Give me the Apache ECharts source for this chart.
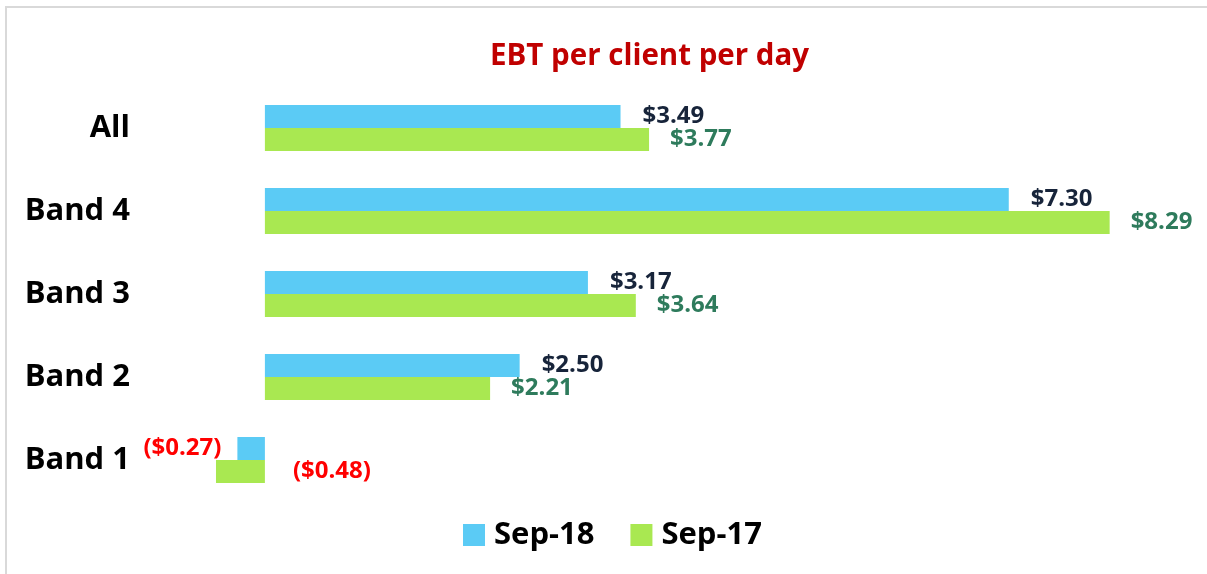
<!DOCTYPE html>
<html>
<head>
<meta charset="utf-8">
<script src="https://cdn.jsdelivr.net/npm/echarts@6/dist/echarts.min.js"></script>
<style>
  html, body { margin: 0; padding: 0; background: #fff; }
  #chart { width: 1207px; height: 574px; }
</style>
</head>
<body>
<div id="chart"></div>
<script>
// categories bottom -> top (category y axis starts at the bottom)
const categories = ["Band 1", "Band 2", "Band 3", "Band 4", "All"];
const sep18 = [-0.27, 2.5, 3.17, 7.3, 3.49];
const sep17 = [-0.48, 2.21, 3.64, 8.29, 3.77];

const FONT = "Open Sans";

function money(v) {
  const s = "$" + Math.abs(v).toFixed(2);
  return v < 0 ? "(" + s + ")" : s;
}

// negative values get red labels, placed the way the original has them
function withLabels(values, negPos, negDist) {
  return values.map((v) => {
    if (v >= 0) return v;
    return {
      value: v,
      label: { color: "#FF0000", position: negPos, distance: negDist },
    };
  });
}

const chart = echarts.init(document.getElementById("chart"));
chart.setOption({
  animation: false,
  textStyle: { fontFamily: FONT },
  title: {
    text: "EBT per client per day",
    left: 485,
    top: 37,
    textStyle: { color: "#C00000", fontSize: 29.5, fontWeight: "bold", fontFamily: FONT },
  },
  graphic: [
    {
      type: "rect",
      shape: { x: 6, y: 7, width: 1400, height: 800 },
      style: { fill: "none", stroke: "#d9d9d9", lineWidth: 2 },
      silent: true,
    },
  ],
  legend: {
    data: ["Sep-18", "Sep-17"],
    left: 458,
    top: 514,
    itemWidth: 22,
    itemHeight: 22,
    itemGap: 36,
    icon: "rect",
    textStyle: { fontSize: 31, fontWeight: "bold", color: "#000", fontFamily: FONT, lineHeight: 32, padding: [0, 0, 0, 4] },
  },
  grid: { left: 163, right: 25, top: 86.5, bottom: 72.5 },
  xAxis: {
    type: "value",
    min: -1,
    max: 9,
    show: false,
  },
  yAxis: {
    type: "category",
    data: categories,
    axisLine: { show: false, onZero: false },
    axisTick: { show: false },
    axisLabel: { margin: 33, fontSize: 31, fontWeight: "bold", color: "#000", fontFamily: FONT },
  },
  series: [
    {
      name: "Sep-18",
      type: "bar",
      data: withLabels(sep18, "left", 16),
      itemStyle: { color: "#5BCBF5" },
      barCategoryGap: "44.6%",
      barGap: 0,
      label: {
        show: true,
        position: "right",
        distance: 22,
        fontSize: 24,
        fontWeight: "bold",
        color: "#17243A",
        fontFamily: FONT,
        formatter: (p) => money(p.value),
      },
    },
    {
      name: "Sep-17",
      type: "bar",
      data: withLabels(sep17, "right", 28),
      itemStyle: { color: "#A9E851" },
      barCategoryGap: "44.6%",
      barGap: 0,
      label: {
        show: true,
        position: "right",
        distance: 21,
        fontSize: 24,
        fontWeight: "bold",
        color: "#2E7B5C",
        fontFamily: FONT,
        formatter: (p) => money(p.value),
      },
    },
  ],
});
</script>
</body>
</html>
